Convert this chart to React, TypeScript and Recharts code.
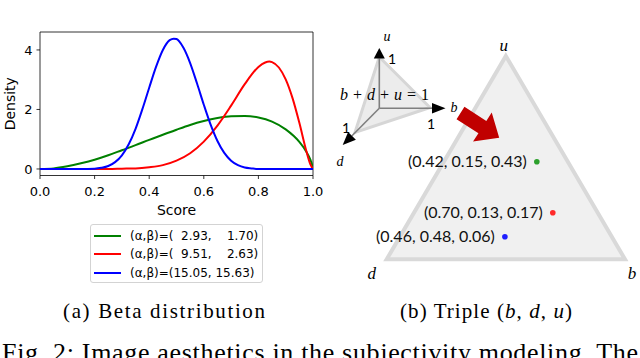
import React from "react";
import {
  LineChart,
  Line,
  XAxis,
  YAxis,
  ReferenceArea,
  Legend,
  ComposedChart,
  Area,
  Scatter,
} from "recharts";

// (a) beta densities
const greenScore = [0, 0.05, 0.1, 0.15, 0.2, 0.25, 0.3, 0.35, 0.4, 0.45, 0.5, 0.55, 0.6, 0.65, 0.7, 0.75, 0.8, 0.85, 0.9, 0.95, 0.975, 0.99, 0.995, 1]
const greenDensity = [0, 0.02, 0.09, 0.19, 0.31, 0.46, 0.63, 0.8, 0.98, 1.15, 1.32, 1.48, 1.61, 1.71, 1.77, 1.78, 1.73, 1.59, 1.33, 0.91, 0.59, 0.32, 0.2, 0]

const redScore = [0, 0.1, 0.2, 0.25, 0.3, 0.35, 0.4, 0.45, 0.5, 0.55, 0.6, 0.65, 0.7, 0.75, 0.8, 0.825, 0.84, 0.85, 0.875, 0.9, 0.925, 0.95, 0.975, 0.99, 1]
const redDensity = [0, 0, 0, 0, 0.01, 0.02, 0.06, 0.13, 0.28, 0.53, 0.92, 1.46, 2.13, 2.85, 3.43, 3.58, 3.61, 3.59, 3.41, 3.01, 2.38, 1.55, 0.62, 0.16, 0]

const blueScore = [0, 0.15, 0.2, 0.225, 0.25, 0.275, 0.3, 0.325, 0.35, 0.375, 0.4, 0.425, 0.45, 0.475, 0.49, 0.5, 0.525, 0.55, 0.575, 0.6, 0.625, 0.65, 0.675, 0.7, 0.725, 0.75, 0.775, 0.8, 1]
const blueDensity = [0, 0, 0.01, 0.04, 0.1, 0.23, 0.46, 0.83, 1.35, 2.01, 2.73, 3.43, 4.0, 4.33, 4.38, 4.37, 4.08, 3.56, 2.88, 2.16, 1.49, 0.94, 0.54, 0.28, 0.13, 0.05, 0.02, 0, 0]

const seriesLabels = [
  "(α,β)=(  2.93,    1.70)",
  "(α,β)=(  9.51,    2.63)",
  "(α,β)=(15.05, 15.63)",
]
const seriesColors = ["#008000", "#ff0000", "#0000ff"]

const scoreTicks = [0, 0.2, 0.4, 0.6, 0.8, 1.0]
const densityTicks = [0, 2, 4]
const yDomain: [number, number] = [-0.219, 4.603]

// (b) opinion triples, placed inside the simplex
const tripleLabels = ["(0.42, 0.15, 0.43)", "(0.70, 0.13, 0.17)", "(0.46, 0.48, 0.06)"]
const tripleX = [0.63, 0.697, 0.496]
const tripleY = [0.48, 0.229, 0.111]
const dotColors = ["#2ca02c", "#ff2a2a", "#1f1fff"]

const vertexNames = ["d", "u", "b"]
const vertexX = [0, 0.5, 1]
const vertexY = [0, 1, 0]

const toPts = (xs: number[], ys: number[]) => xs.map((score, i) => ({ score, density: ys[i] }))
const greenData = toPts(greenScore, greenDensity)
const redData = toPts(redScore, redDensity)
const blueData = toPts(blueScore, blueDensity)

const vertexPts = vertexNames.map((name, i) => ({ x: vertexX[i], y: vertexY[i], name }))
const triangleFill = vertexPts
const triangleOutline = [vertexPts[0], vertexPts[1], vertexPts[2], vertexPts[0], vertexPts[1]]
const triplePts = tripleLabels.map((label, i) => ({ x: tripleX[i], y: tripleY[i], label, idx: i }))

const labelOffset: Record<string, [number, number]> = { u: [-2, -11], d: [-15, 14], b: [7, 14] }

const tickStyle = { fill: "#000", fontSize: 13, fontFamily: "DejaVu Sans" }

function BetaLegend() {
  return (
    <div
      style={{
        boxSizing: "border-box",
        width: 173,
        height: 59,
        border: "1px solid #d3d3d3",
        borderRadius: 3,
        background: "rgba(255,255,255,0.8)",
        paddingTop: 2,
        fontFamily: "DejaVu Sans",
        fontSize: 12,
        color: "#000",
        textAlign: "left",
      }}
    >
      {seriesLabels.map((label, i) => (
        <div key={i} style={{ display: "flex", alignItems: "center", height: 18.3 }}>
          <span style={{ display: "inline-block", width: 27, height: 2, background: seriesColors[i], marginLeft: 3, marginRight: 9 }} />
          <span style={{ whiteSpace: "pre" }}>{label}</span>
        </div>
      ))}
    </div>
  )
}

function BetaChart() {
  return (
    <LineChart width={330} height={290} margin={{ top: 32, right: 17, bottom: 70, left: 0 }}>
      <XAxis
        type="number"
        dataKey="score"
        domain={[0, 1]}
        ticks={scoreTicks}
        interval={0}
        tickFormatter={(v: number) => v.toFixed(1)}
        tickSize={3.5}
        tickMargin={8}
        axisLine={false}
        tickLine={{ stroke: "#000", strokeWidth: 0.8 }}
        tick={tickStyle}
        height={44.5}
        allowDataOverflow
        label={{ value: "Score", position: "insideBottom", offset: 5, fill: "#000", fontSize: 14, fontFamily: "DejaVu Sans" }}
      />
      <YAxis
        type="number"
        domain={yDomain}
        ticks={densityTicks}
        interval={0}
        width={40}
        tickSize={3.5}
        tickMargin={4}
        axisLine={false}
        tickLine={{ stroke: "#000", strokeWidth: 0.8 }}
        tick={tickStyle}
        allowDataOverflow
        label={{
          value: "Density",
          angle: -90,
          position: "insideLeft",
          offset: 10,
          fill: "#000",
          fontSize: 14,
          fontFamily: "DejaVu Sans",
          style: { textAnchor: "middle" },
        }}
      />
      <Line data={greenData} dataKey="density" name={seriesLabels[0]} type="monotone" stroke={seriesColors[0]} strokeWidth={2} dot={false} isAnimationActive={false} />
      <Line data={redData} dataKey="density" name={seriesLabels[1]} type="monotone" stroke={seriesColors[1]} strokeWidth={2} dot={false} isAnimationActive={false} />
      <Line data={blueData} dataKey="density" name={seriesLabels[2]} type="monotone" stroke={seriesColors[2]} strokeWidth={2} dot={false} isAnimationActive={false} />
      <ReferenceArea x1={0} x2={1} y1={yDomain[0]} y2={yDomain[1]} fill="none" stroke="#000" strokeWidth={0.8} ifOverflow="visible" />
      <Legend
        layout="vertical"
        align="center"
        verticalAlign="middle"
        wrapperStyle={{ left: 90, top: 224, width: 173, height: 59 }}
        content={() => <BetaLegend />}
      />
    </LineChart>
  )
}

function TriangleChart() {
  return (
    <ComposedChart width={280} height={260} margin={{ top: 26, right: 15, bottom: 30.7, left: 26.7 }}>
      <XAxis type="number" dataKey="x" domain={[0, 1]} hide />
      <YAxis type="number" dataKey="y" domain={[0, 1]} hide />
      <Area data={triangleFill} dataKey="y" type="linear" fill="#f0f0f0" fillOpacity={1} stroke="none" baseValue={0} isAnimationActive={false} />
      <Line data={triangleOutline} dataKey="y" type="linear" stroke="#d9d9d9" strokeWidth={4} strokeLinejoin="miter" dot={false} isAnimationActive={false} />
      <Scatter
        data={vertexPts}
        isAnimationActive={false}
        shape={(p: any) => {
          const [dx, dy] = labelOffset[p.payload.name]
          return (
            <text x={p.cx + dx} y={p.cy + dy} textAnchor="middle" dominantBaseline="central" fontFamily="Liberation Serif" fontStyle="italic" fontSize={17} fill="#000">
              {p.payload.name}
            </text>
          )
        }}
      />
      <Scatter
        data={triplePts}
        isAnimationActive={false}
        shape={(p: any) => (
          <g>
            <circle cx={p.cx} cy={p.cy} r={2.8} fill={dotColors[p.payload.idx]} />
            <text x={p.cx - 10} y={p.cy - 1} textAnchor="end" dominantBaseline="central" fontFamily="Lato" fontSize={16} fill="#111">
              {p.payload.label}
            </text>
          </g>
        )}
      />
    </ComposedChart>
  )
}

function arrowHead(tx: number, ty: number, bx: number, by: number, hw: number) {
  const dx = tx - bx
  const dy = ty - by
  const len = Math.hypot(dx, dy)
  const nx = (-dy / len) * hw
  const ny = (dx / len) * hw
  return `${tx},${ty} ${bx + nx},${by + ny} ${bx - nx},${by - ny}`
}

function blockArrow(x: number, y: number, ang: number, shaft: number, shw: number, head: number, hhw: number) {
  const c = Math.cos(ang)
  const s = Math.sin(ang)
  const p = (a: number, b: number) => `${x + a * c - b * s},${y + a * s + b * c}`
  return [p(0, -shw), p(shaft, -shw), p(shaft, -hhw), p(shaft + head, 0), p(shaft, hhw), p(shaft, shw), p(0, shw)].join(" ")
}

function Annotations() {
  const serif = "Liberation Serif"
  return (
    <svg width={640} height={358} style={{ position: "absolute", left: 0, top: 0, pointerEvents: "none" }}>
      {/* little 3d simplex */}
      <polygon points="379.3,57 430,107.5 355,132.3" fill="#ececec" stroke="#d6d6d6" strokeWidth={3} />
      <g stroke="#7f7f7f" strokeWidth={1.6}>
        <line x1={379.3} y1={108.3} x2={379.3} y2={58.5} />
        <line x1={379.3} y1={108.3} x2={432} y2={108.3} />
        <line x1={379.3} y1={108.3} x2={352} y2={135.8} />
      </g>
      <polygon points={arrowHead(379.3, 48, 379.3, 58.5, 5.5)} fill="#000" />
      <polygon points={arrowHead(445.5, 108.3, 432, 108.3, 5.2)} fill="#000" />
      <polygon points={arrowHead(342.7, 145, 352, 135.8, 5.5)} fill="#000" />
      <g fontFamily={serif} fontStyle="italic" fontSize={14} fill="#000" textAnchor="middle" dominantBaseline="central">
        <text x={387} y={36}>u</text>
        <text x={454} y={107}>b</text>
        <text x={340} y={161}>d</text>
      </g>
      <g fontFamily="Lato" fontSize={14} fill="#000" textAnchor="middle" dominantBaseline="central">
        <text x={392} y={58}>1</text>
        <text x={431} y={123}>1</text>
        <text x={346} y={127}>1</text>
      </g>
      <text x={340} y={100} fontFamily={serif} fontSize={16} fill="#000" textLength={89} lengthAdjust="spacing">
        <tspan fontStyle="italic">b</tspan> + <tspan fontStyle="italic">d</tspan> + <tspan fontStyle="italic">u</tspan> = 1
      </text>
      <polygon points={blockArrow(460.5, 113, 0.571, 26, 7.3, 20, 17.3)} fill="#c00000" />

      {/* captions */}
      <text x={63} y={318} fontFamily={serif} fontSize={21} fill="#000" textLength={202} lengthAdjust="spacing">
        (a) Beta distribution
      </text>
      <text x={400} y={318} fontFamily={serif} fontSize={21} fill="#000" textLength={172} lengthAdjust="spacing">
        (b) Triple (<tspan fontStyle="italic">b</tspan>, <tspan fontStyle="italic">d</tspan>, <tspan fontStyle="italic">u</tspan>)
      </text>
      <text x={2} y={361} fontFamily={serif} fontSize={26} fill="#000" textLength={636} lengthAdjust="spacing">
        Fig. 2: Image aesthetics in the subjectivity modeling. The
      </text>
    </svg>
  )
}

export default function App() {
  return (
    <div style={{ position: "absolute", left: 0, top: 0, width: 640, height: 358, overflow: "hidden", background: "#fff" }}>
      <div style={{ position: "absolute", left: 0, top: 0 }}>
        <BetaChart />
      </div>
      <div style={{ position: "absolute", left: 360, top: 30 }}>
        <TriangleChart />
      </div>
      <Annotations />
    </div>
  )
}
